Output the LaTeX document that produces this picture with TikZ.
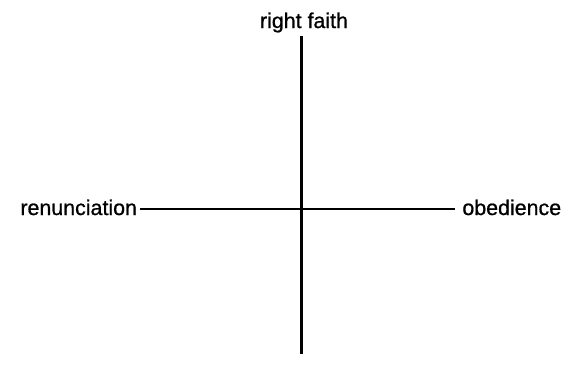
\documentclass[tikz,border=0pt]{standalone}
\usepackage{fontspec}
\setmainfont{Liberation Sans}
\newfontfamily\axisfont[FakeBold=0.8]{Liberation Sans}
\usetikzlibrary{positioning}

\begin{document}
\begin{tikzpicture}[
    x=0.5pt, y=-0.5pt,
    every node/.style={font=\axisfont\fontsize{10.7}{12}\selectfont, inner sep=1.5pt}
]
  \useasboundingbox (0,0) rectangle (561,382);
  % nodes
  \node[anchor=base] (rf) at (304,28) {right faith};
  \node[anchor=base west, inner sep=0pt] (ren) at (20,215) {renunciation};
  \node[anchor=base west, inner sep=0pt] (obe) at (462,215) {obedience};
  \coordinate (c) at (301,209);
  \coordinate (bot) at (301,354);

  % edges
  \draw[line width=1.5pt] (rf.south -| c) -- (bot);
  \draw[line width=1pt] ([xshift=1.5pt]ren.east |- c) -- ([xshift=-3.5pt]obe.west |- c);
\end{tikzpicture}
\end{document}
